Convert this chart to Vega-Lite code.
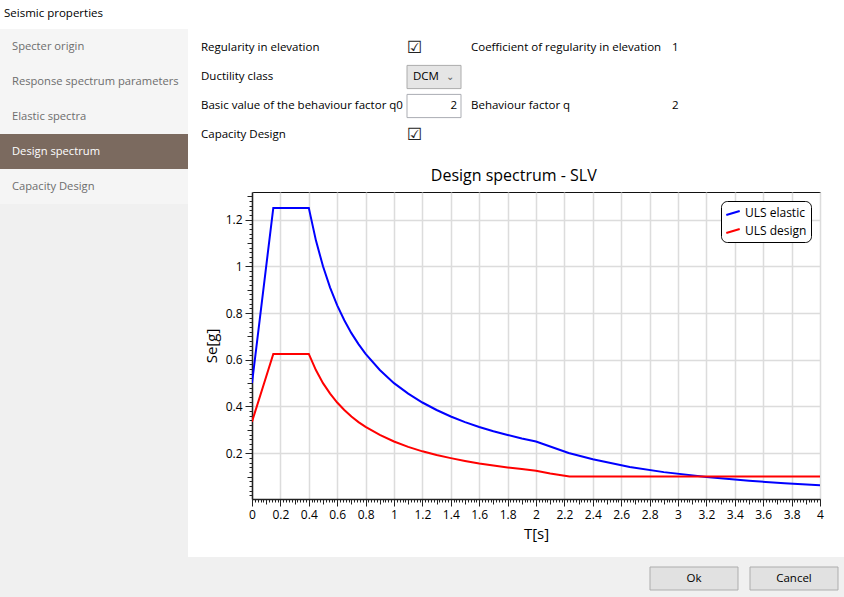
{
  "$schema": "https://vega.github.io/schema/vega-lite/v6.json",
  "background": "white",
  "padding": {"top": 7, "left": 0, "right": 0, "bottom": 0},
  "config": {
    "font": "Open Sans",
    "view": {"stroke": null},
    "concat": {"spacing": 0}
  },
  "title": {
    "text": "Seismic properties",
    "anchor": "start",
    "fontSize": 11.5,
    "fontWeight": "normal",
    "color": "#000",
    "dx": 4,
    "offset": 10
  },
  "resolve": {"scale": {"color": "independent"}, "legend": {"color": "independent"}},
  "datasets": {
    "pages": [
      {"page": "Specter origin", "selected": false},
      {"page": "Response spectrum parameters", "selected": false},
      {"page": "Elastic spectra", "selected": false},
      {"page": "Design spectrum", "selected": true},
      {"page": "Capacity Design", "selected": false}
    ],
    "form": [
      {"row": 1, "label": "Regularity in elevation", "control": "check", "label2": "Coefficient of regularity in elevation", "value": "1"},
      {"row": 2, "label": "Ductility class", "control": "DCM", "label2": "", "value": ""},
      {"row": 3, "label": "Basic value of the behaviour factor q0", "control": "2", "label2": "Behaviour factor q", "value": "2"},
      {"row": 4, "label": "Capacity Design", "control": "check", "label2": "", "value": ""}
    ],
    "buttons": [
      {"button": "Ok", "strip": "b"},
      {"button": "Cancel", "strip": "b"}
    ],
    "spectrum": [
      {"series": "ULS elastic", "T": 0, "Se": 0.5},
      {"series": "ULS elastic", "T": 0.15, "Se": 1.25},
      {"series": "ULS elastic", "T": 0.4, "Se": 1.25},
      {"series": "ULS elastic", "T": 0.45, "Se": 1.111},
      {"series": "ULS elastic", "T": 0.5, "Se": 1.0},
      {"series": "ULS elastic", "T": 0.55, "Se": 0.909},
      {"series": "ULS elastic", "T": 0.6, "Se": 0.833},
      {"series": "ULS elastic", "T": 0.65, "Se": 0.769},
      {"series": "ULS elastic", "T": 0.7, "Se": 0.714},
      {"series": "ULS elastic", "T": 0.75, "Se": 0.667},
      {"series": "ULS elastic", "T": 0.8, "Se": 0.625},
      {"series": "ULS elastic", "T": 0.9, "Se": 0.556},
      {"series": "ULS elastic", "T": 1.0, "Se": 0.5},
      {"series": "ULS elastic", "T": 1.1, "Se": 0.455},
      {"series": "ULS elastic", "T": 1.2, "Se": 0.417},
      {"series": "ULS elastic", "T": 1.3, "Se": 0.385},
      {"series": "ULS elastic", "T": 1.4, "Se": 0.357},
      {"series": "ULS elastic", "T": 1.5, "Se": 0.333},
      {"series": "ULS elastic", "T": 1.6, "Se": 0.3125},
      {"series": "ULS elastic", "T": 1.7, "Se": 0.294},
      {"series": "ULS elastic", "T": 1.8, "Se": 0.278},
      {"series": "ULS elastic", "T": 1.9, "Se": 0.263},
      {"series": "ULS elastic", "T": 2.0, "Se": 0.25},
      {"series": "ULS elastic", "T": 2.23, "Se": 0.201},
      {"series": "ULS elastic", "T": 2.4, "Se": 0.174},
      {"series": "ULS elastic", "T": 2.66, "Se": 0.141},
      {"series": "ULS elastic", "T": 2.9, "Se": 0.119},
      {"series": "ULS elastic", "T": 3.2, "Se": 0.098},
      {"series": "ULS elastic", "T": 3.5, "Se": 0.082},
      {"series": "ULS elastic", "T": 3.75, "Se": 0.071},
      {"series": "ULS elastic", "T": 4.0, "Se": 0.0625},
      {"series": "ULS design", "T": 0, "Se": 0.335},
      {"series": "ULS design", "T": 0.15, "Se": 0.625},
      {"series": "ULS design", "T": 0.4, "Se": 0.625},
      {"series": "ULS design", "T": 0.45, "Se": 0.556},
      {"series": "ULS design", "T": 0.5, "Se": 0.5},
      {"series": "ULS design", "T": 0.55, "Se": 0.455},
      {"series": "ULS design", "T": 0.6, "Se": 0.417},
      {"series": "ULS design", "T": 0.65, "Se": 0.385},
      {"series": "ULS design", "T": 0.7, "Se": 0.357},
      {"series": "ULS design", "T": 0.75, "Se": 0.333},
      {"series": "ULS design", "T": 0.8, "Se": 0.3125},
      {"series": "ULS design", "T": 0.9, "Se": 0.278},
      {"series": "ULS design", "T": 1.0, "Se": 0.25},
      {"series": "ULS design", "T": 1.1, "Se": 0.227},
      {"series": "ULS design", "T": 1.2, "Se": 0.208},
      {"series": "ULS design", "T": 1.3, "Se": 0.192},
      {"series": "ULS design", "T": 1.4, "Se": 0.179},
      {"series": "ULS design", "T": 1.5, "Se": 0.167},
      {"series": "ULS design", "T": 1.6, "Se": 0.156},
      {"series": "ULS design", "T": 1.7, "Se": 0.147},
      {"series": "ULS design", "T": 1.8, "Se": 0.139},
      {"series": "ULS design", "T": 1.9, "Se": 0.132},
      {"series": "ULS design", "T": 2.0, "Se": 0.125},
      {"series": "ULS design", "T": 2.1, "Se": 0.113},
      {"series": "ULS design", "T": 2.236, "Se": 0.1},
      {"series": "ULS design", "T": 4.0, "Se": 0.1}
    ]
  },
  "vconcat": [
    {
      "resolve": {"scale": {"color": "independent"}, "legend": {"color": "independent"}},
      "hconcat": [
        {
          "width": 188,
          "height": 528,
          "view": {"fill": "#f0f0f0", "stroke": null},
          "data": {"name": "pages"},
          "encoding": {
            "y": {
              "field": "page",
              "type": "nominal",
              "sort": null,
              "scale": {"paddingInner": 0, "paddingOuter": 0, "range": [0, 175]},
              "axis": null
            }
          },
          "layer": [
            {
              "mark": {"type": "rect"},
              "encoding": {
                "color": {"condition": {"test": "datum.selected", "value": "#7b6a5f"}, "value": "#f5f5f5"}
              }
            },
            {
              "mark": {"type": "text", "align": "left", "baseline": "middle", "dx": 12, "fontSize": 11.2},
              "encoding": {
                "x": {"datum": 0, "type": "quantitative", "scale": {"domain": [0, 1]}, "axis": null},
                "text": {"field": "page"},
                "color": {"condition": {"test": "datum.selected", "value": "#ffffff"}, "value": "#6d6d6d"},
                "fontWeight": {"condition": {"test": "datum.selected", "value": "bold"}, "value": "normal"}
              }
            }
          ]
        },
        {
          "resolve": {"scale": {"color": "independent"}, "legend": {"color": "independent"}},
          "vconcat": [
            {
              "hconcat": [
                {
                  "width": 154,
                  "height": 125,
                  "data": {"name": "form"},
                  "mark": {"type": "text", "align": "left", "baseline": "middle", "dx": -51, "fontSize": 11.5, "color": "#000"},
                  "encoding": {
                    "x": {"datum": 0, "type": "quantitative", "scale": {"domain": [0, 1]}, "axis": null},
                    "y": {"field": "row", "type": "ordinal", "scale": {"type": "band", "paddingInner": 0.2, "paddingOuter": 0.255, "align": 0.5}, "axis": null},
                    "text": {"field": "label"}
                  }
                },
                {
                  "width": 54,
                  "height": 125,
                  "data": {"name": "form"},
                  "encoding": {
                    "y": {"field": "row", "type": "ordinal", "scale": {"type": "band", "paddingInner": 0.2, "paddingOuter": 0.255, "align": 0.5}, "axis": null}
                  },
                  "layer": [
                    {
                      "transform": [{"filter": "datum.control !== 'check'"}],
                      "mark": {"type": "rect", "strokeWidth": 1},
                      "encoding": {
                        "color": {"condition": {"test": "datum.control === 'DCM'", "value": "#e5e5e5"}, "value": "#ffffff"},
                        "stroke": {"condition": {"test": "datum.control === 'DCM'", "value": "#acacac"}, "value": "#abadb3"}
                      }
                    },
                    {
                      "transform": [{"filter": "datum.control === 'DCM'"}],
                      "mark": {"type": "text", "align": "left", "baseline": "middle", "dx": 6, "fontSize": 11.5, "color": "#000"},
                      "encoding": {
                        "x": {"datum": 0, "type": "quantitative", "scale": {"domain": [0, 1]}, "axis": null},
                        "text": {"field": "control"}
                      }
                    },
                    {
                      "transform": [{"filter": "datum.control === 'DCM'"}],
                      "mark": {"type": "text", "align": "right", "baseline": "middle", "dx": -7, "fontSize": 10, "color": "#606060", "text": "⌄"},
                      "encoding": {
                        "x": {"datum": 1, "type": "quantitative", "scale": {"domain": [0, 1]}, "axis": null}
                      }
                    },
                    {
                      "transform": [{"filter": "datum.control === '2'"}],
                      "mark": {"type": "text", "align": "right", "baseline": "middle", "dx": -4, "fontSize": 11.5, "color": "#000"},
                      "encoding": {
                        "x": {"datum": 1, "type": "quantitative", "scale": {"domain": [0, 1]}, "axis": null},
                        "text": {"field": "control"}
                      }
                    },
                    {
                      "transform": [{"filter": "datum.control === 'check'"}],
                      "mark": {"type": "text", "align": "left", "baseline": "middle", "dx": 0, "fontSize": 17, "font": "DejaVu Sans", "color": "#222", "text": "☑"},
                      "encoding": {
                        "x": {"datum": 0, "type": "quantitative", "scale": {"domain": [0, 1]}, "axis": null}
                      }
                    }
                  ]
                },
                {
                  "width": 210,
                  "height": 125,
                  "data": {"name": "form"},
                  "mark": {"type": "text", "align": "left", "baseline": "middle", "dx": 9, "fontSize": 11.5, "color": "#000"},
                  "encoding": {
                    "x": {"datum": 0, "type": "quantitative", "scale": {"domain": [0, 1]}, "axis": null},
                    "y": {"field": "row", "type": "ordinal", "scale": {"type": "band", "paddingInner": 0.2, "paddingOuter": 0.255, "align": 0.5}, "axis": null},
                    "text": {"field": "label2"}
                  }
                },
                {
                  "width": 30,
                  "height": 125,
                  "data": {"name": "form"},
                  "mark": {"type": "text", "align": "left", "baseline": "middle", "dx": -2, "fontSize": 11.5, "color": "#000"},
                  "encoding": {
                    "x": {"datum": 0, "type": "quantitative", "scale": {"domain": [0, 1]}, "axis": null},
                    "y": {"field": "row", "type": "ordinal", "scale": {"type": "band", "paddingInner": 0.2, "paddingOuter": 0.255, "align": 0.5}, "axis": null},
                    "text": {"field": "value"}
                  }
                }
              ]
            },
            {
              "width": 568,
              "height": 307,
              "title": {
                "text": "Design spectrum - SLV",
                "fontSize": 16,
                "fontWeight": "normal",
                "color": "#000",
                "anchor": "middle",
                "frame": "bounds",
                "offset": 6
              },
              "view": {"stroke": "#111", "strokeWidth": 1, "fill": "white"},
              "data": {"name": "spectrum"},
              "mark": {"type": "line", "strokeWidth": 2, "clip": true},
              "encoding": {
                "x": {
                  "field": "T",
                  "type": "quantitative",
                  "scale": {"domain": [0, 4], "nice": false, "zero": false},
                  "axis": {
                    "title": "T[s]",
                    "titleFontSize": 15,
                    "titleFontWeight": "normal",
                    "titleColor": "#000",
                    "titlePadding": 6,
                    "labelFontSize": 12,
                    "labelColor": "#000",
                    "labelPadding": 3,
                    "labelOverlap": false,
                    "labelFlush": false,
                    "labelBound": false,
                    "labelExpr": "abs(datum.value * 5 - round(datum.value * 5)) < 0.001 ? format(datum.value, '~g') : ''",
                    "tickCount": 200,
                    "tickColor": "#222",
                    "tickSize": {"condition": [{"test": "abs(datum.value * 5 - round(datum.value * 5)) < 0.001", "value": 7}, {"test": "abs(datum.value * 10 - round(datum.value * 10)) < 0.001", "value": 5}], "value": 3},
                    "domainColor": "#222",
                    "domainWidth": 1.5,
                    "grid": true,
                    "gridColor": "#dcdcdc",
                    "gridWidth": 1.5,
                    "gridOpacity": {"condition": {"test": "abs(datum.value * 5 - round(datum.value * 5)) < 0.001", "value": 1}, "value": 0}
                  }
                },
                "y": {
                  "field": "Se",
                  "type": "quantitative",
                  "scale": {"domain": [0.004, 1.318], "nice": false, "zero": false},
                  "axis": {
                    "title": "Se[g]",
                    "titleFontSize": 15,
                    "titleFontWeight": "normal",
                    "titleColor": "#000",
                    "titlePadding": 6,
                    "labelFontSize": 12,
                    "labelColor": "#000",
                    "labelPadding": 3,
                    "labelOverlap": false,
                    "labelFlush": false,
                    "labelBound": false,
                    "labelExpr": "abs(datum.value * 5 - round(datum.value * 5)) < 0.001 ? format(datum.value, '~g') : ''",
                    "tickCount": 65,
                    "tickColor": "#222",
                    "tickSize": {"condition": [{"test": "abs(datum.value * 5 - round(datum.value * 5)) < 0.001", "value": 7}, {"test": "abs(datum.value * 10 - round(datum.value * 10)) < 0.001", "value": 5}], "value": 3},
                    "domainColor": "#222",
                    "domainWidth": 1.5,
                    "grid": true,
                    "gridColor": "#dcdcdc",
                    "gridWidth": 1.5,
                    "gridOpacity": {"condition": {"test": "abs(datum.value * 5 - round(datum.value * 5)) < 0.001", "value": 1}, "value": 0}
                  }
                },
                "color": {
                  "field": "series",
                  "type": "nominal",
                  "scale": {"domain": ["ULS elastic", "ULS design"], "range": ["#0000ff", "#ff0000"]},
                  "legend": {
                    "title": null,
                    "orient": "top-right",
                    "offset": 9,
                    "fillColor": "white",
                    "strokeColor": "#000",
                    "cornerRadius": 6,
                    "padding": 4,
                    "rowPadding": 3,
                    "labelFontSize": 12,
                    "labelColor": "#000",
                    "symbolType": "M-1,0.3L1,-0.3",
                    "symbolSize": 180,
                    "symbolStrokeWidth": 2
                  }
                }
              }
            }
          ],
          "spacing": 13
        }
      ],
      "spacing": 13
    },
    {
      "width": 844,
      "height": 41,
      "view": {"fill": "#f0f0f0", "stroke": null},
      "data": {"name": "buttons"},
      "encoding": {
        "x": {"field": "button", "type": "nominal", "sort": null, "scale": {"paddingInner": 0.12, "paddingOuter": 0, "range": [650, 838]}, "axis": null},
        "y": {"field": "strip", "type": "nominal", "scale": {"paddingInner": 0, "paddingOuter": 0, "range": [10, 33]}, "axis": null}
      },
      "layer": [
        {"mark": {"type": "rect", "fill": "#e1e1e1", "stroke": "#adadad", "strokeWidth": 1}},
        {
          "mark": {"type": "text", "fontSize": 11.5, "color": "#000", "baseline": "middle"},
          "encoding": {"text": {"field": "button"}}
        }
      ]
    }
  ]
}
